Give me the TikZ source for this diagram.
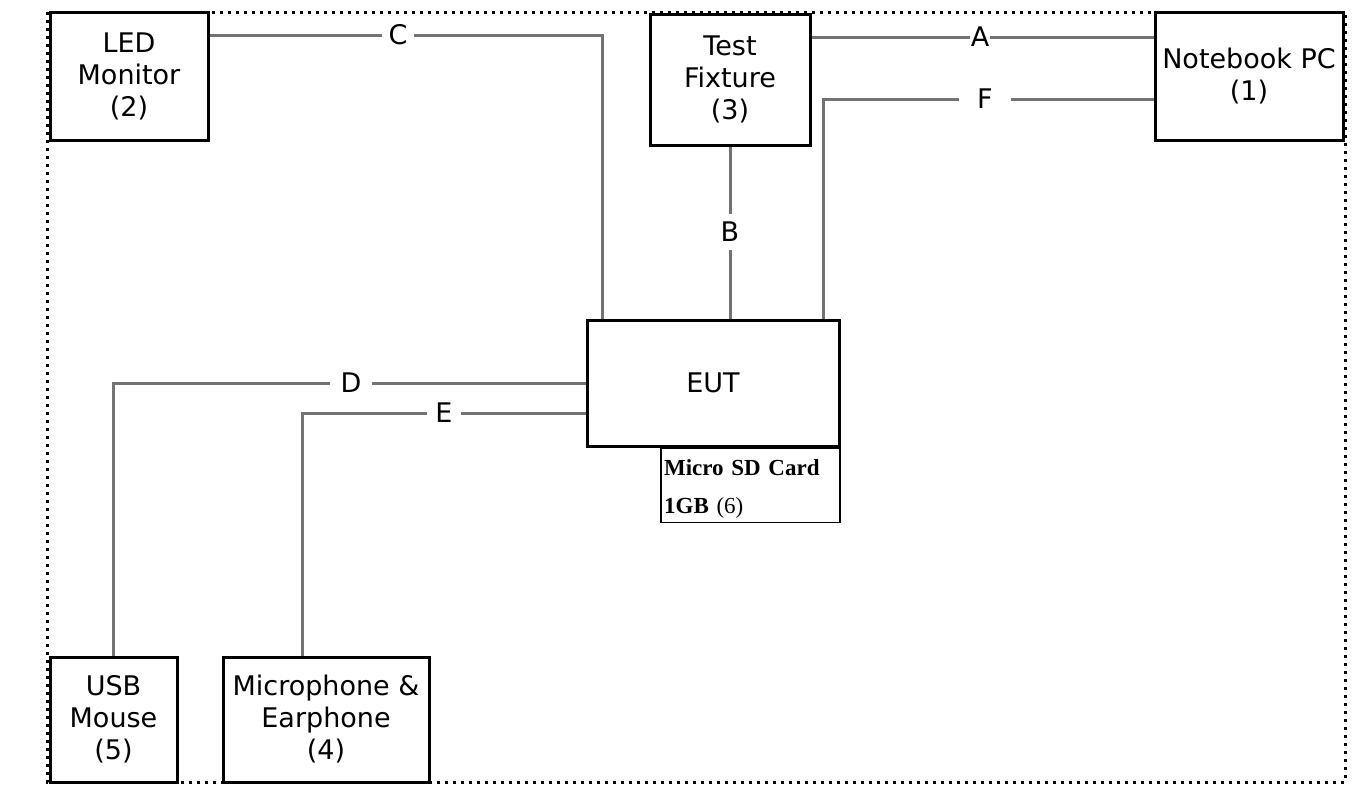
\documentclass[tikz,border=0pt]{standalone}
\usepackage{fontspec}
\setmainfont{DejaVu Sans}
\newfontfamily\cardfont{Liberation Serif}
\usetikzlibrary{positioning}
\definecolor{WireGray}{RGB}{115,115,115}
\tikzset{
  unit/.style={draw=black,line width=3pt,fill=white,align=center,inner sep=0pt,
    font=\fontsize{27}{32}\selectfont},
  wire/.style={WireGray,line width=3pt},
  tag/.style={fill=white,inner xsep=7pt,inner ysep=2pt,font=\fontsize{27}{30}\selectfont},
}

\begin{document}
\begin{tikzpicture}[x=1pt,y=-1pt]
  \useasboundingbox (0,0) rectangle (1352,787);
  % outer frame
  \draw[line width=3pt,dash pattern=on 3pt off 5pt] (47,12) rectangle (1345,782);

  % units
  \node[unit,minimum width=158,minimum height=128] (led) at (129,76) {LED\\Monitor\\(2)};
  \node[unit,minimum width=160,minimum height=131] (fixture) at (730,79.5) {Test\\Fixture\\(3)};
  \node[unit,minimum width=188,minimum height=128] (notebook) at (1249,76) {Notebook PC\\(1)};
  \node[unit,minimum width=252,minimum height=126] (eut) at (713,383) {EUT};
  \node[draw=black,line width=1.8pt,fill=white,anchor=north east,minimum width=179,
    minimum height=74,text width=172,align=left,inner xsep=3pt,inner ysep=0pt,
    font=\cardfont\fontsize{23}{38}\selectfont] (card) at (eut.south east)
    {\rule{0pt}{24pt}\textbf{Micro SD Card}\\\textbf{1GB} (6)};
  \node[unit,minimum width=127,minimum height=125] (mouse) at (113.5,719.5) {USB\\Mouse\\(5)};
  \node[unit,minimum width=206,minimum height=125] (mic) at (326,719.5) {Microphone \&\\Earphone\\(4)};

  % cables
  \draw[wire] (led.east |- 0,35) -| (eut.north -| 602,0);
  \draw[wire] (fixture.east |- 0,37) -- (notebook.west |- 0,37);
  \draw[wire] (fixture.south) -- (eut.north -| fixture.south);
  \draw[wire] (eut.west |- 0,383) -| (mouse.north -| 113,0);
  \draw[wire] (eut.west |- 0,413) -| (mic.north -| 302,0);
  \draw[wire] (notebook.west |- 0,99) -| (eut.north -| 823,0);

  % cable tags
  \node[tag,inner xsep=1pt] (tagA) at (980,37) {A};
  \node[tag,inner ysep=8pt] (tagB) at (730,232) {B};
  \node[tag] (tagC) at (398,35) {C};
  \node[tag,inner xsep=11pt] (tagD) at (351,383) {D};
  \node[tag,inner xsep=8pt] (tagE) at (444,413) {E};
  \node[tag,inner xsep=18pt] (tagF) at (985,99) {F};
\end{tikzpicture}
\end{document}
